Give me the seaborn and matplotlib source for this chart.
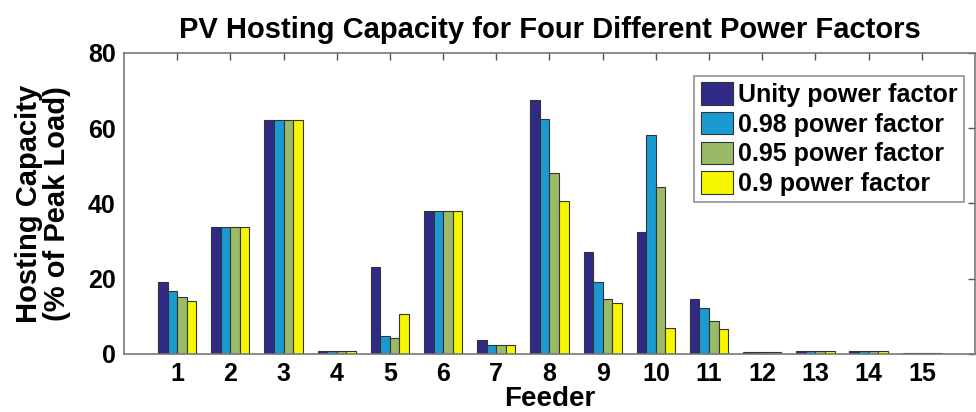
import pandas as pd
import matplotlib
matplotlib.use("Agg")
import matplotlib.pyplot as plt
import seaborn as sns

# values
feeders = list(range(1, 16))
series_names = ["Unity power factor", "0.98 power factor", "0.95 power factor", "0.9 power factor"]
unity = [19.2, 33.7, 62.2, 0.8, 23.1, 37.9, 3.6, 67.6, 27.2, 32.4, 14.7, 0.6, 0.8, 0.8, 0.2]
pf098 = [16.6, 33.7, 62.2, 0.8, 4.7, 37.9, 2.4, 62.4, 19.1, 58.1, 12.1, 0.6, 0.8, 0.8, 0.2]
pf095 = [15.2, 33.7, 62.2, 0.8, 4.3, 37.9, 2.4, 48.0, 14.7, 44.4, 8.7, 0.6, 0.8, 0.8, 0.2]
pf090 = [14.1, 33.7, 62.2, 0.8, 10.7, 37.9, 2.4, 40.6, 13.5, 7.0, 6.7, 0.6, 0.8, 0.8, 0.2]
colors = ["#2e2a86", "#1b9ad2", "#9bba68", "#f6f600"]

rows = []
for name, vals in zip(series_names, [unity, pf098, pf095, pf090]):
    for f, v in zip(feeders, vals):
        rows.append({"Feeder": f, "Series": name, "Value": v})
df = pd.DataFrame(rows)

sns.set_style("white")
plt.rcParams["font.family"] = ["Liberation Sans", "DejaVu Sans"]
plt.rcParams["font.weight"] = "bold"
plt.rcParams["text.color"] = "black"
plt.rcParams["axes.labelcolor"] = "black"
plt.rcParams["xtick.color"] = "black"
plt.rcParams["ytick.color"] = "black"

fig = plt.figure(figsize=(9.76, 4.12), dpi=100)
ax = fig.add_axes([0.127, 0.141, 0.872, 0.7306])

sns.barplot(data=df, x="Feeder", y="Value", hue="Series", hue_order=series_names,
            palette=colors, width=0.72, edgecolor="#333333", linewidth=0.8,
            saturation=1, ax=ax)

ax.set_xlim(-1, 15)
ax.set_ylim(0, 80)
ax.set_yticks([0, 20, 40, 60, 80])
ax.tick_params(axis="both", labelsize=18, direction="in", length=5, width=1,
               color="#555555", labelcolor="black", top=True, right=True)
ax.tick_params(axis="x", pad=6)
ax.tick_params(axis="y", pad=6)
for lbl in ax.get_xticklabels() + ax.get_yticklabels():
    lbl.set_fontweight("bold")
for s in ax.spines.values():
    s.set_color("#777777")
    s.set_linewidth(1.2)

ax.set_xlabel("Feeder", fontsize=20, fontweight="bold", labelpad=0)
ax.set_ylabel("Hosting Capacity\n(% of Peak Load)", fontsize=21, fontweight="bold",
              linespacing=1.0, labelpad=12)
ax.set_title("PV Hosting Capacity for Four Different Power Factors", fontsize=21,
             fontweight="bold", pad=11)

leg = ax.legend(loc="upper right", bbox_to_anchor=(0.993, 0.94), fontsize=18,
                frameon=True, fancybox=False, edgecolor="#777777",
                handlelength=1.3, handleheight=1.0, handletextpad=0.2,
                labelspacing=0.2, borderpad=0.25, borderaxespad=0.2)
leg.get_frame().set_linewidth(1.2)
for t in leg.get_texts():
    t.set_fontweight("bold")

fig.savefig("out.png", dpi=100)
